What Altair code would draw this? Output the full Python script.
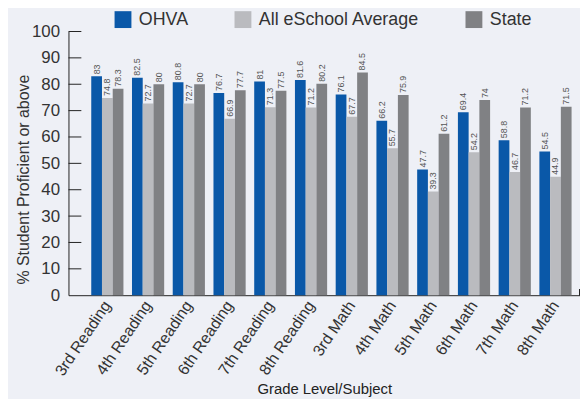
import altair as alt
import pandas as pd

categories = ["3rd Reading", "4th Reading", "5th Reading", "6th Reading", "7th Reading",
              "8th Reading", "3rd Math", "4th Math", "5th Math", "6th Math", "7th Math", "8th Math"]
series = ["OHVA", "All eSchool Average", "State"]
ohva = [83, 82.5, 80.8, 76.7, 81, 81.6, 76.1, 66.2, 47.7, 69.4, 58.8, 54.5]
eschool = [74.8, 72.7, 72.7, 66.9, 71.3, 71.2, 67.7, 55.7, 39.3, 54.2, 46.7, 44.9]
state = [78.3, 80, 80, 77.7, 77.5, 80.2, 84.5, 75.9, 61.2, 74, 71.2, 71.5]
colors = ["#0a58a8", "#babbbf", "#808184"]
y_ticks = [10, 20, 30, 40, 50, 60, 70, 80, 90, 100]

rows = []
for s, vals in zip(series, [ohva, eschool, state]):
    for c, v in zip(categories, vals):
        rows.append({"cat": c, "series": s, "value": v, "label": f"{v:g}"})
df = pd.DataFrame(rows)
ticks_df = pd.DataFrame({"t": y_ticks})

W, H = 516, 266

x_scale = alt.Scale(paddingInner=0.21, paddingOuter=0.383, align=0.73)
x_axis = alt.Axis(title="Grade Level/Subject", labelAngle=-56, labelAlign="right",
                  labelBaseline="middle", labelPadding=7, ticks=False,
                  domainColor="#222", labelFontSize=16, labelColor="#333",
                  labelOverlap=False, labelLimit=200,
                  titleFontSize=15, titleColor="#222", titleFontWeight="normal",
                  titleY=94, titleBaseline="middle")
xoff = alt.XOffset("series:N", sort=series, scale=alt.Scale(paddingInner=0, paddingOuter=0))
y_scale = alt.Scale(domain=[0, 100])
y_axis = alt.Axis(title="% Student Proficient or above", values=[0] + y_ticks,
                  ticks=False, grid=False, domainColor="#222", labelFontSize=17,
                  labelColor="#333", labelPadding=9, labelOverlap=False,
                  titleFontSize=16, titleColor="#333", titleFontWeight="normal",
                  titleX=-37, titleY=149)

base = alt.Chart(df)
bars = base.mark_bar().encode(
    x=alt.X("cat:N", sort=categories, scale=x_scale, axis=x_axis),
    xOffset=xoff,
    y=alt.Y("value:Q", scale=y_scale, axis=y_axis),
    color=alt.Color("series:N", sort=series,
                    scale=alt.Scale(domain=series, range=colors),
                    legend=alt.Legend(title=None, orient="none", legendX=46, legendY=-21,
                                      direction="horizontal", symbolType="square",
                                      symbolSize=289, symbolStrokeWidth=0, symbolOpacity=1,
                                      labelFontSize=18, labelColor="#333", labelLimit=300,
                                      columnPadding=46, labelOffset=7, padding=0))
)
labels = base.mark_text(angle=270, align="left", baseline="middle", dx=2,
                        fontSize=9, color="#555").encode(
    x=alt.X("cat:N", sort=categories, scale=x_scale, axis=x_axis),
    xOffset=xoff,
    y=alt.Y("value:Q", scale=y_scale, axis=y_axis), text="label:N")

tick_rules = alt.Chart(ticks_df).mark_rule(color="#222", strokeWidth=1).encode(
    y=alt.Y("t:Q", scale=y_scale, axis=y_axis), x=alt.value(0), x2=alt.value(13))
end_tick = alt.Chart(ticks_df).mark_rule(color="#222", strokeWidth=1).encode(
    x=alt.value(W), y=alt.value(H), y2=alt.value(H - 6))

chart = alt.layer(bars, labels, tick_rules, end_tick).properties(
    width=W, height=H,
    autosize=alt.AutoSizeParams(type="none"),
    padding={"left": 61, "top": 22, "right": 0, "bottom": 103},
    background="#eef0f6",
).configure(font="Liberation Sans").configure_view(stroke=None)

chart.save("out.html", embed_options={"renderer": "svg", "actions": False})
